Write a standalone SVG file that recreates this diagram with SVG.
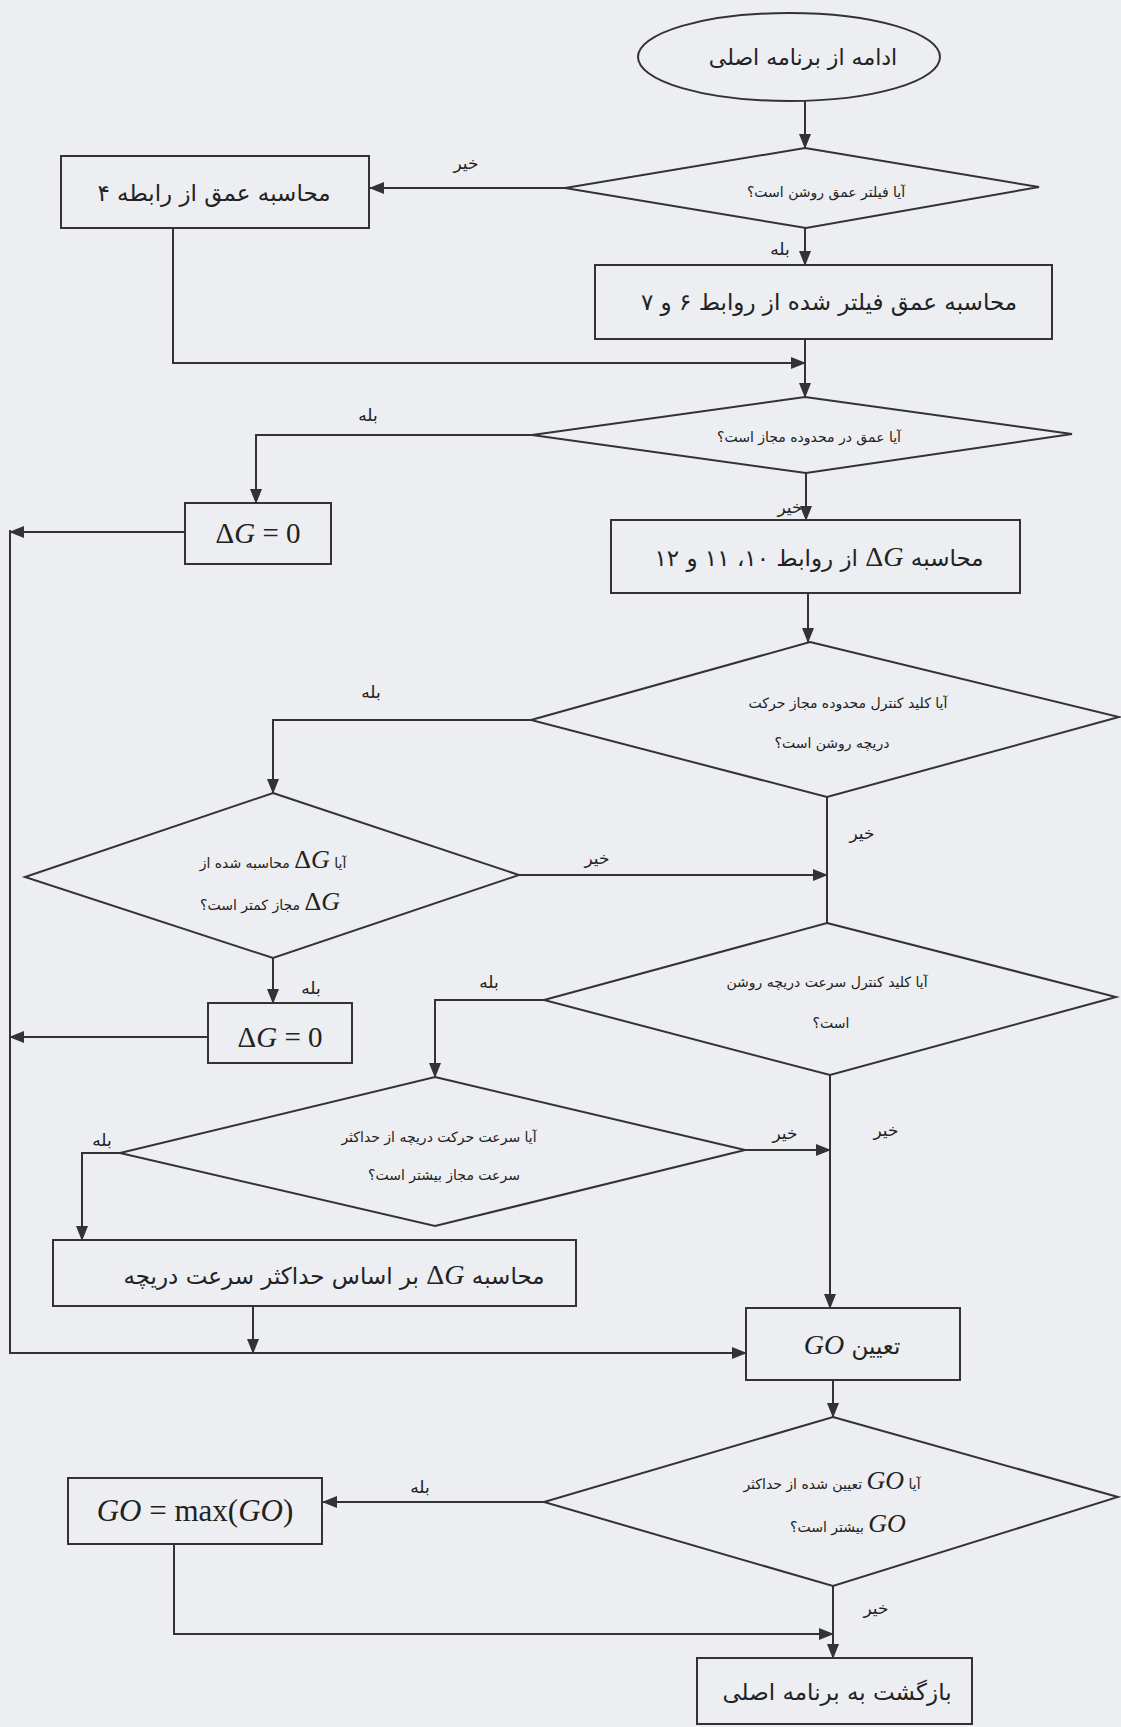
<svg xmlns="http://www.w3.org/2000/svg" width="1121" height="1727" viewBox="0 0 1121 1727">
<style>
.shp{fill:none;stroke:#333;stroke-width:2}
.ln{fill:none;stroke:#333;stroke-width:2}
.fa{font-family:"DejaVu Sans","Noto Sans",sans-serif;fill:#222}
.box{font-size:23px}
.dia{font-size:14px}
.lbl{font-size:17px}
.mi{font-family:"Liberation Serif",serif;font-style:italic}
.mu{font-family:"Liberation Serif",serif;font-style:normal}
.eq{font-family:"Liberation Serif",serif;fill:#222}
</style>
<defs>
<marker id="ah" markerUnits="userSpaceOnUse" markerWidth="15" markerHeight="12" refX="14" refY="6" orient="auto">
<path d="M0,0 L15,6 L0,12 Z" fill="#333"/>
</marker>
</defs>
<rect x="0" y="0" width="1121" height="1727" fill="#eceef1"/>

<g id="connectors">
<path class="ln" d="M805,101 V148" marker-end="url(#ah)"/>
<path class="ln" d="M565,188 H370" marker-end="url(#ah)"/>
<path class="ln" d="M805,228 V265" marker-end="url(#ah)"/>
<path class="ln" d="M805,339 V397" marker-end="url(#ah)"/>
<path class="ln" d="M173,228 V363 H805" marker-end="url(#ah)"/>
<path class="ln" d="M532,435 H256 V503" marker-end="url(#ah)"/>
<path class="ln" d="M806,473 V520" marker-end="url(#ah)"/>
<path class="ln" d="M185,532 H10" marker-end="url(#ah)"/>
<path class="ln" d="M808,593 V642" marker-end="url(#ah)"/>
<path class="ln" d="M531,720 H273 V793" marker-end="url(#ah)"/>
<path class="ln" d="M827,797 V923"/>
<path class="ln" d="M519,875 H827" marker-end="url(#ah)"/>
<path class="ln" d="M273,958 V1003" marker-end="url(#ah)"/>
<path class="ln" d="M208,1037 H10" marker-end="url(#ah)"/>
<path class="ln" d="M544,1000 H435 V1077" marker-end="url(#ah)"/>
<path class="ln" d="M830,1075 V1308" marker-end="url(#ah)"/>
<path class="ln" d="M745,1150 H830" marker-end="url(#ah)"/>
<path class="ln" d="M120,1153 H82 V1240" marker-end="url(#ah)"/>
<path class="ln" d="M253,1306 V1353" marker-end="url(#ah)"/>
<path class="ln" d="M10,530 V1353 H746" marker-end="url(#ah)"/>
<path class="ln" d="M833,1380 V1417" marker-end="url(#ah)"/>
<path class="ln" d="M544,1502 H323" marker-end="url(#ah)"/>
<path class="ln" d="M833,1586 V1658" marker-end="url(#ah)"/>
<path class="ln" d="M174,1544 V1634 H833" marker-end="url(#ah)"/>
<text class="fa lbl" x="466" y="169" text-anchor="middle" direction="rtl">خیر</text>
<text class="fa lbl" x="780" y="255" text-anchor="middle" direction="rtl">بله</text>
<text class="fa lbl" x="368" y="421" text-anchor="middle" direction="rtl">بله</text>
<text class="fa lbl" x="790" y="513" text-anchor="middle" direction="rtl">خیر</text>
<text class="fa lbl" x="371" y="698" text-anchor="middle" direction="rtl">بله</text>
<text class="fa lbl" x="862" y="839" text-anchor="middle" direction="rtl">خیر</text>
<text class="fa lbl" x="597" y="864" text-anchor="middle" direction="rtl">خیر</text>
<text class="fa lbl" x="311" y="994" text-anchor="middle" direction="rtl">بله</text>
<text class="fa lbl" x="489" y="988" text-anchor="middle" direction="rtl">بله</text>
<text class="fa lbl" x="886" y="1136" text-anchor="middle" direction="rtl">خیر</text>
<text class="fa lbl" x="785" y="1139" text-anchor="middle" direction="rtl">خیر</text>
<text class="fa lbl" x="102" y="1146" text-anchor="middle" direction="rtl">بله</text>
<text class="fa lbl" x="420" y="1493" text-anchor="middle" direction="rtl">بله</text>
<text class="fa lbl" x="876" y="1614" text-anchor="middle" direction="rtl">خیر</text>
</g>

<g id="start">
<ellipse class="shp" cx="789" cy="57" rx="151" ry="44"/>
<text class="fa" font-size="22" x="803" y="65" text-anchor="middle" direction="rtl">ادامه از برنامه اصلی</text>
</g>

<g id="d1">
<path class="shp" d="M805,148 L1039,187 L806,228 L565,188 Z"/>
<text class="fa dia" x="826" y="197" text-anchor="middle" direction="rtl">آیا فیلتر عمق روشن است؟</text>
</g>

<g id="b1">
<rect class="shp" x="61" y="156" width="308" height="72"/>
<text class="fa box" x="214" y="201" text-anchor="middle" direction="rtl">محاسبه عمق از رابطه ۴</text>
</g>

<g id="b2">
<rect class="shp" x="595" y="265" width="457" height="74"/>
<text class="fa box" x="829" y="310" text-anchor="middle" direction="rtl">محاسبه عمق فیلتر شده از روابط ۶ و ۷</text>
</g>

<g id="d2">
<path class="shp" d="M805,397 L1072,434 L806,473 L532,435 Z"/>
<text class="fa dia" x="809" y="442" text-anchor="middle" direction="rtl">آیا عمق در محدوده مجاز است؟</text>
</g>

<g id="b3">
<rect class="shp" x="185" y="503" width="146" height="61"/>
<text class="eq" x="258" y="543" text-anchor="middle" font-size="29"><tspan>Δ</tspan><tspan font-style="italic">G</tspan> = 0</text>
</g>

<g id="b4">
<rect class="shp" x="611" y="520" width="409" height="73"/>
<text class="fa box" x="819" y="566" text-anchor="middle" direction="rtl">محاسبه <tspan class="mu" font-size="28">Δ</tspan><tspan class="mi" font-size="28">G</tspan> از روابط ۱۰، ۱۱ و ۱۲</text>
</g>

<g id="d3">
<path class="shp" d="M810,642 L1119,717 L827,797 L531,720 Z"/>
<text class="fa dia" x="848" y="708" text-anchor="middle" direction="rtl">آیا کلید کنترل محدوده مجاز حرکت</text>
<text class="fa dia" x="832" y="748" text-anchor="middle" direction="rtl">دریچه روشن است؟</text>
</g>

<g id="d4">
<path class="shp" d="M273,793 L519,875 L273,958 L25,877 Z"/>
<text class="fa dia" x="273" y="868" text-anchor="middle" direction="rtl">آیا <tspan class="mu" font-size="26">Δ</tspan><tspan class="mi" font-size="26">G</tspan> محاسبه شده از</text>
<text class="fa dia" x="270" y="910" text-anchor="middle" direction="rtl"><tspan class="mu" font-size="26">Δ</tspan><tspan class="mi" font-size="26">G</tspan> مجاز کمتر است؟</text>
</g>

<g id="b5">
<rect class="shp" x="208" y="1003" width="144" height="60"/>
<text class="eq" x="280" y="1047" text-anchor="middle" font-size="29"><tspan>Δ</tspan><tspan font-style="italic">G</tspan> = 0</text>
</g>

<g id="d5">
<path class="shp" d="M827,923 L1116,997 L830,1075 L544,1000 Z"/>
<text class="fa dia" x="827" y="987" text-anchor="middle" direction="rtl">آیا کلید کنترل سرعت دریچه روشن</text>
<text class="fa dia" x="831" y="1028" text-anchor="middle" direction="rtl">است؟</text>
</g>

<g id="d6">
<path class="shp" d="M435,1077 L745,1150 L435,1226 L120,1153 Z"/>
<text class="fa dia" x="439" y="1142" text-anchor="middle" direction="rtl">آیا سرعت حرکت دریچه از حداکثر</text>
<text class="fa dia" x="444" y="1180" text-anchor="middle" direction="rtl">سرعت مجاز بیشتر است؟</text>
</g>

<g id="b7">
<rect class="shp" x="53" y="1240" width="523" height="66"/>
<text class="fa box" x="334" y="1284" text-anchor="middle" direction="rtl">محاسبه <tspan class="mu" font-size="28">Δ</tspan><tspan class="mi" font-size="28">G</tspan> بر اساس حداکثر سرعت دریچه</text>
</g>

<g id="b8">
<rect class="shp" x="746" y="1308" width="214" height="72"/>
<text class="fa box" x="852" y="1354" text-anchor="middle" direction="rtl">تعیین <tspan class="mi" font-size="28">GO</tspan></text>
</g>

<g id="d7">
<path class="shp" d="M833,1417 L1118,1497 L833,1586 L544,1502 Z"/>
<text class="fa dia" x="832" y="1489" text-anchor="middle" direction="rtl">آیا <tspan class="mi" font-size="26">GO</tspan> تعیین شده از حداکثر</text>
<text class="fa dia" x="848" y="1532" text-anchor="middle" direction="rtl"><tspan class="mi" font-size="26">GO</tspan> بیشتر است؟</text>
</g>

<g id="b9">
<rect class="shp" x="68" y="1478" width="254" height="66"/>
<text class="eq" x="195" y="1521" text-anchor="middle" font-size="31"><tspan font-style="italic">GO</tspan> = max(<tspan font-style="italic">GO</tspan>)</text>
</g>

<g id="end">
<rect class="shp" x="697" y="1658" width="275" height="66"/>
<text class="fa box" x="837" y="1700" text-anchor="middle" direction="rtl">بازگشت به برنامه اصلی</text>
</g>
</svg>
